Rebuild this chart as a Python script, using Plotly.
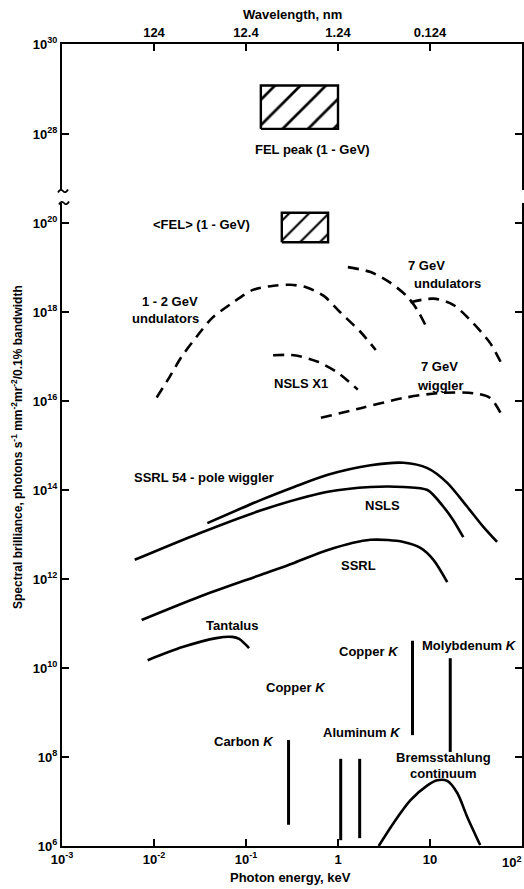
import plotly.graph_objects as go

# ---------------- data (photon energy in keV, spectral brilliance) ----------------
und12_E = [0.0107, 0.0148, 0.0199, 0.0289, 0.043, 0.071, 0.117, 0.2, 0.30, 0.45, 0.70, 1.05, 1.75, 2.57]
und12_B = [1.2e16, 3.5e16, 9.8e16, 2.75e17, 7.4e17, 1.6e18, 3.1e18, 3.9e18, 4.1e18, 3.6e18, 2.3e18, 1.0e18, 3.6e17, 1.4e17]

und7a_E = [1.28, 2.26, 3.73, 5.69, 7.31, 8.92]
und7a_B = [1.02e19, 7.9e18, 4.5e18, 2.2e18, 1.1e18, 5.1e17]

und7b_E = [6.14, 10.9, 17.9, 29.5, 45.1, 60.8]
und7b_B = [1.66e18, 2.0e18, 1.45e18, 5.6e17, 2.0e17, 6.5e16]

x1_E = [0.197, 0.333, 0.604, 1.0, 1.64]
x1_B = [1.07e17, 1.07e17, 7.6e16, 4.3e16, 1.8e16]

wig7_E = [0.652, 1.77, 5.15, 12.0, 29.5, 45.1, 62.3]
wig7_B = [4.2e15, 6.9e15, 1.17e16, 1.5e16, 1.5e16, 1.17e16, 4.2e15]

ssrl54_E = [0.038, 0.146, 0.333, 0.776, 2.26, 5.15, 9.38, 15.4, 25.4, 37.8, 53.6]
ssrl54_B = [1.8e13, 6.0e13, 1.17e14, 2.2e14, 3.6e14, 4.1e14, 3.1e14, 1.45e14, 4.2e13, 1.5e13, 6.8e12]

nsls_E = [0.00617, 0.0312, 0.146, 0.776, 2.26, 5.15, 9.38, 14.0, 17.9, 23.0]
nsls_B = [2.7e12, 1.07e13, 3.5e13, 9.1e13, 1.17e14, 1.17e14, 1.0e14, 4.2e13, 2.1e13, 8.7e12]

ssrl_E = [0.00734, 0.0312, 0.146, 0.333, 0.776, 2.26, 5.15, 7.87, 10.9, 15.4]
ssrl_B = [1.2e11, 4.0e11, 1.25e12, 2.3e12, 4.5e12, 7.6e12, 6.8e12, 5.0e12, 2.7e12, 8.5e11]

tant_E = [0.00853, 0.0204, 0.0475, 0.071, 0.0843, 0.108]
tant_B = [1.5e10, 2.95e10, 4.7e10, 5.0e10, 4.5e10, 2.8e10]

brems_E = [2.77, 4.02, 6.14, 9.38, 12.0, 15.4, 19.8, 25.4, 35.1]
brems_B = [1.0e6, 3.3e6, 1.07e7, 2.3e7, 3.0e7, 2.9e7, 1.55e7, 4.5e6, 1.05e6]

# characteristic lines: energy, low, high
kline_E = [0.29, 1.07, 1.72, 6.45, 16.6]
kline_lo = [3.0e6, 1.35e6, 1.5e6, 3.1e8, 1.3e8]
kline_hi = [2.4e8, 9.1e7, 9.1e7, 4.1e10, 1.66e10]

# FEL boxes: [E0, E1], [B0, B1]
felpk_E = [0.145, 1.0]
felpk_B = [1.3e28, 1.2e29]
felav_E = [0.245, 0.78]
felav_B = [3.7e19, 1.7e20]

x_ticks = [1e-3, 1e-2, 1e-1, 1, 10, 100]
x_ticktext = ["10<sup>-3</sup>", "10<sup>-2</sup>", "10<sup>-1</sup>", "1", "10", ""]
x_last_label = "10<sup>2</sup>"
wl_ticks = [1e-2, 1e-1, 1, 10]
wl_ticktext = ["124", "12.4", "1.24", "0.124"]
y_lo_ticks = [1e6, 1e8, 1e10, 1e12, 1e14, 1e16, 1e18, 1e20]
y_lo_text = ["10<sup>6</sup>", "10<sup>8</sup>", "10<sup>10</sup>", "10<sup>12</sup>",
             "10<sup>14</sup>", "10<sup>16</sup>", "10<sup>18</sup>", "10<sup>20</sup>"]
y_hi_ticks = [1e28, 1e30]
y_hi_text = ["10<sup>28</sup>", "10<sup>30</sup>"]

# ---------------- layout geometry ----------------
W, H = 524, 889
ML, MR, MT, MB = 62, 2, 44, 43
PW = W - ML - MR
PH = H - MT - MB


def px(x):
    return (x - ML) / PW


def py(y):
    return (H - MB - y) / PH


FONT = dict(family="Arial, Liberation Sans, sans-serif", size=13, color="#000000", weight="bold")

fig = go.Figure()

solid = dict(color="black", width=2.6, shape="spline", smoothing=0.8)
dashed = dict(color="black", width=2.6, dash="11px,7px", shape="spline", smoothing=0.8)

for E, B in [(und12_E, und12_B), (und7a_E, und7a_B), (und7b_E, und7b_B),
             (x1_E, x1_B), (wig7_E, wig7_B)]:
    fig.add_trace(go.Scatter(x=E, y=B, mode="lines", line=dashed, showlegend=False,
                             xaxis="x", yaxis="y", hoverinfo="skip"))

for E, B in [(ssrl54_E, ssrl54_B), (nsls_E, nsls_B), (ssrl_E, ssrl_B),
             (tant_E, tant_B), (brems_E, brems_B)]:
    fig.add_trace(go.Scatter(x=E, y=B, mode="lines", line=solid, showlegend=False,
                             xaxis="x", yaxis="y", hoverinfo="skip"))

for e, lo, hi in zip(kline_E, kline_lo, kline_hi):
    fig.add_trace(go.Scatter(x=[e, e], y=[lo, hi], mode="lines",
                             line=dict(color="black", width=3), showlegend=False,
                             xaxis="x", yaxis="y", hoverinfo="skip"))


def box(E, B, size, xa, ya):
    return go.Scatter(x=[E[0], E[1], E[1], E[0], E[0]], y=[B[0], B[0], B[1], B[1], B[0]],
                      mode="lines", fill="toself", fillcolor="white",
                      fillpattern=dict(shape="/", fgcolor="black", bgcolor="white",
                                       size=size, solidity=0.15),
                      line=dict(color="black", width=2.4), showlegend=False,
                      xaxis=xa, yaxis=ya, hoverinfo="skip")


fig.add_trace(box(felpk_E, felpk_B, 18, "x2", "y2"))
fig.add_trace(box(felav_E, felav_B, 14, "x", "y"))

axis_common = dict(type="log", showgrid=False, zeroline=False, showline=True,
                   linecolor="black", linewidth=2, ticks="inside", tickcolor="black",
                   tickwidth=2, ticklen=7, tickfont=FONT, automargin=False)

fig.update_layout(
    template="none",
    width=W, height=H,
    margin=dict(l=ML, r=MR, t=MT, b=MB, autoexpand=False),
    paper_bgcolor="white", plot_bgcolor="white",
    showlegend=False,
    xaxis=dict(axis_common, range=[-3, 2], domain=[0, 1], anchor="y",
               tickvals=x_ticks, ticktext=x_ticktext, mirror=False),
    xaxis2=dict(axis_common, range=[-3, 2], domain=[0, 1], anchor="y2", side="top",
                tickvals=wl_ticks, ticktext=wl_ticktext, mirror=False),
    yaxis=dict(axis_common, range=[6, 20.45], domain=[0, py(203)], anchor="x",
               tickvals=y_lo_ticks, ticktext=y_lo_text, mirror="ticks"),
    yaxis2=dict(axis_common, range=[26.756, 30], domain=[py(190), 1], anchor="x2",
                tickvals=y_hi_ticks, ticktext=y_hi_text, mirror="ticks"),
)

labels = [
    ("FEL peak (1 - GeV)", 312, 149),
    ("&lt;FEL&gt; (1 - GeV)", 201, 224),
    ("1 - 2 GeV", 170, 301),
    ("undulators", 165, 318),
    ("7 GeV", 426, 265),
    ("undulators", 447, 283),
    ("NSLS X1", 301, 383),
    ("7 GeV", 439, 367),
    ("wiggler", 440, 385),
    ("SSRL 54 - pole wiggler", 204, 478),
    ("NSLS", 382, 505),
    ("SSRL", 358, 565),
    ("Tantalus", 232, 625),
    ("Copper <i>K</i>", 369, 651),
    ("Molybdenum <i>K</i>", 469, 645),
    ("Copper <i>K</i>", 296, 687),
    ("Carbon <i>K</i>", 244, 741),
    ("Aluminum <i>K</i>", 362, 732),
    ("Bremsstahlung", 443, 757),
    ("continuum", 443, 773),
]
ann = []
for t, x, y in labels:
    ann.append(dict(text=t, x=px(x), y=py(y), xref="paper", yref="paper",
                    showarrow=False, font=FONT, xanchor="center", yanchor="middle"))

ann.append(dict(text=x_last_label, x=px(524), y=py(852), xref="paper", yref="paper",
                showarrow=False, font=FONT, xanchor="right", yanchor="top"))
ann.append(dict(text="Wavelength, nm", x=px(292), y=py(15), xref="paper", yref="paper",
                showarrow=False, font=FONT, xanchor="center", yanchor="middle"))
ann.append(dict(text="Photon energy, keV", x=px(290), y=py(877), xref="paper", yref="paper",
                showarrow=False, font=FONT, xanchor="center", yanchor="middle"))
ann.append(dict(text="Spectral brilliance, photons s<sup>-1</sup> mm<sup>-2</sup>mr<sup>-2</sup>/0.1% bandwidth",
                x=px(17), y=py(447), xref="paper", yref="paper", textangle=-90,
                showarrow=False, font=dict(FONT, size=12), xanchor="center", yanchor="middle"))
fig.update_layout(annotations=ann)


def tilde(cx, cy):
    pts = [(cx - 5, cy + 1.5), (cx - 2.5, cy - 3), (cx, cy), (cx + 5, cy - 1.5)]
    p = [(px(a), py(b)) for a, b in pts]
    return (f"M {p[0][0]},{p[0][1]} Q {p[1][0]},{p[1][1]} {p[2][0]},{p[2][1]} "
            f"T {p[3][0]},{p[3][1]}")


fig.update_layout(shapes=[
    dict(type="path", path=tilde(63, 191), xref="paper", yref="paper",
         line=dict(color="black", width=1.8)),
    dict(type="path", path=tilde(64, 203), xref="paper", yref="paper",
         line=dict(color="black", width=1.8)),
])

fig.write_html("out.html", config={"displayModeBar": False},
               post_script="document.body.style.margin='0';document.body.style.overflow='hidden';")
